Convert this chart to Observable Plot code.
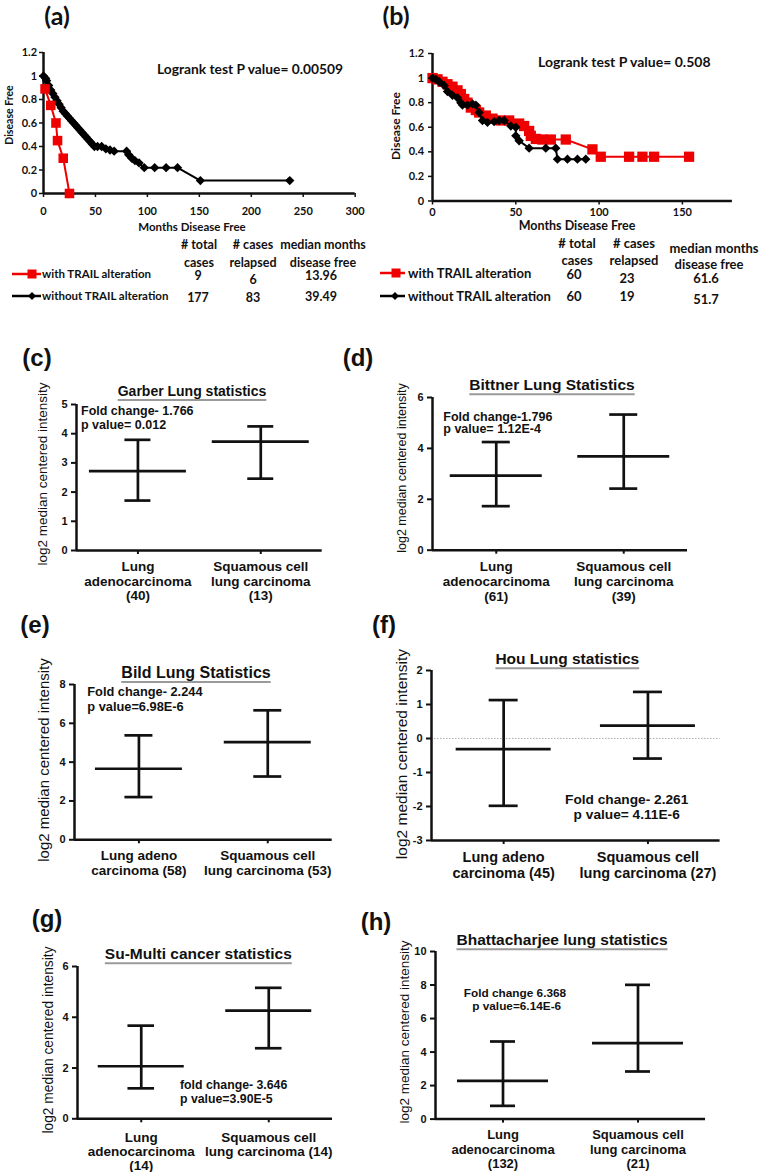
<!DOCTYPE html>
<html><head><meta charset="utf-8">
<script src="https://cdn.jsdelivr.net/npm/d3@7"></script>
<script src="https://cdn.jsdelivr.net/npm/@observablehq/plot@0.6"></script>
<style>
html,body{margin:0;padding:0;background:#fff}
#fig{position:relative;width:762px;height:1172px;overflow:hidden;background:#fff}
.t{position:absolute;white-space:pre;line-height:1;color:#111}
</style></head><body><div id="fig"></div>
<script>
// ---------------- DATA ----------------
// Panel (a) Kaplan-Meier
const aWithMonths = [1.5, 7, 12, 13.5, 19, 25];
const aWithDF = [0.89, 0.75, 0.60, 0.45, 0.30, 0];
const aWithoutMonths = [0,2,3,5,7,9,11,13,15,17,19,21,23,25,27,29,31,33,35,37,39,41,43,45,47,49,52,56,60,64,68,80,82,85,88,92,97,107,118,129,151,237];
const aWithoutDF = [1,0.98,0.96,0.92,0.88,0.85,0.82,0.79,0.76,0.73,0.70,0.68,0.66,0.64,0.62,0.60,0.58,0.56,0.54,0.52,0.50,0.48,0.46,0.44,0.42,0.40,0.40,0.40,0.38,0.37,0.36,0.36,0.33,0.30,0.28,0.26,0.22,0.22,0.22,0.22,0.11,0.11];
const aXTicks = [0,50,100,150,200,250,300];
const aYTicks = [0,0.2,0.4,0.6,0.8,1,1.2];
const aStatsWith = ["9","6","13.96"];
const aStatsWithout = ["177","83","39.49"];
// Panel (b) Kaplan-Meier
const bWithMonths = [0,3,6,9,12,15,17,19,21,23,26,28,32,36,41,46,52,55,58,59,62,66,71,80,96,101,118,126,133,154];
const bWithDF = [1,0.99,0.97,0.95,0.93,0.9,0.87,0.83,0.8,0.76,0.74,0.72,0.695,0.67,0.655,0.655,0.63,0.61,0.57,0.53,0.505,0.5,0.5,0.5,0.42,0.36,0.36,0.36,0.36,0.36];
const bWithoutMonths = [0,2,4,7,9,12,15,17,18,21,24,26,28,30,33,37,40,43,47,50,50,52,58,68,74,75,81,87,92];
const bWithoutDF = [1,0.99,0.97,0.94,0.89,0.86,0.84,0.8,0.78,0.78,0.79,0.78,0.72,0.655,0.64,0.645,0.655,0.655,0.61,0.6,0.53,0.49,0.43,0.43,0.43,0.34,0.34,0.34,0.34];
const bXTicks = [0,50,100,150];
const bYTicks = [0,0.2,0.4,0.6,0.8,1,1.2];
const bStatsWith = ["60","23","61.6"];
const bStatsWithout = ["60","19","51.7"];
const legendLabels = ["with TRAIL alteration","without TRAIL alteration"];
const statHeadTop = ["# total","# cases","median months"];
const statHeadBottom = ["cases","relapsed","disease free"];

// Expression panels (c)-(h): mean, lower and upper whisker
const cCats = ["Lung\nadenocarcinoma\n(40)","Squamous cell\nlung carcinoma\n(13)"];
const cMean = [2.72,3.73], cLow = [1.71,2.46], cHigh = [3.79,4.25], cTicks = [0,1,2,3,4,5];
const dCats = ["Lung\nadenocarcinoma\n(61)","Squamous cell\nlung carcinoma\n(39)"];
const dMean = [2.93,3.69], dLow = [1.73,2.42], dHigh = [4.25,5.33], dTicks = [0,2,4,6];
const eCats = ["Lung adeno\ncarcinoma (58)","Squamous cell\nlung carcinoma (53)"];
const eMean = [3.66,5.03], eLow = [2.2,3.26], eHigh = [5.38,6.67], eTicks = [0,2,4,6,8];
const fCats = ["Lung adeno\ncarcinoma (45)","Squamous cell\nlung carcinoma (27)"];
const fMean = [-0.31,0.38], fLow = [-1.98,-0.59], fHigh = [1.13,1.37], fTicks = [-3,-2,-1,0,1,2];
const gCats = ["Lung\nadenocarcinoma\n(14)","Squamous cell\nlung carcinoma (14)"];
const gMean = [2.07,4.26], gLow = [1.2,2.78], gHigh = [3.67,5.16], gTicks = [0,2,4,6];
const hCats = ["Lung\nadenocarcinoma\n(132)","Squamous cell\nlung carcinoma\n(21)"];
const hMean = [2.28,4.53], hLow = [0.79,2.84], hHigh = [4.63,8.01], hTicks = [0,2,4,6,8,10];
const yTitle = "log2 median centered intensity";

// ---------------- HELPERS ----------------
const CAL = "Lato, 'Open Sans', sans-serif";
const ARI = "'Liberation Sans', Arial, sans-serif";
const fig = document.getElementById("fig");

function T(str, x, y, o = {}) {
  const el = document.createElement("div");
  el.className = "t";
  el.textContent = str;
  const s = el.style;
  s.left = x + "px"; s.top = y + "px";
  s.fontFamily = o.fam || ARI;
  s.fontSize = (o.size || 12) + "px";
  s.fontWeight = o.weight || "700";
  if (o.underline) {
    s.textDecoration = "underline";
    s.textDecorationColor = "#9a9a9a";
    s.textDecorationThickness = "1.5px";
    s.textUnderlineOffset = "3px";
    s.textDecorationSkipInk = "none";
  }
  const a = o.anchor || "middle";
  const tx = a === "start" ? "0" : a === "end" ? "-100%" : "-50%";
  s.transform = `translate(${tx},-50%)` + (o.rotate ? ` rotate(${o.rotate}deg)` : "");
  fig.appendChild(el);
}

function put(svg, left, top) {
  svg.style.position = "absolute";
  svg.style.left = left + "px";
  svg.style.top = top + "px";
  svg.style.maxWidth = "none";
  svg.style.background = "transparent";
  fig.appendChild(svg);
}

function sample(x1, x2, mx, y, color, shape) {
  const w = x2 - x1, h = 14, cy = 7, cx = mx - x1;
  const mk = shape === "square"
    ? `<rect x="${cx-4.5}" y="${cy-4.5}" width="9" height="9" fill="${color}"/>`
    : `<path d="M${cx},${cy-4}L${cx+4},${cy}L${cx},${cy+4}L${cx-4},${cy}Z" fill="${color}"/>`;
  const div = document.createElement("div");
  div.innerHTML = `<svg width="${w}" height="${h}" style="position:absolute;left:${x1}px;top:${y-cy}px"><line x1="0" x2="${w}" y1="${cy}" y2="${cy}" stroke="${color}" stroke-width="2.5"/>${mk}</svg>`;
  fig.appendChild(div.firstChild);
}

function kmPanel(c) {
  const ml = 40, mr = 10, mt = 10, mb = 30;
  const toRows = (m, v) => m.map((x, i) => ({m: x, v: v[i]}));
  const series = c.series.map(s => ({...s, data: toRows(s.months, s.df)}));
  const svg = Plot.plot({
    width: c.x1 - c.x0 + ml + mr, height: c.yBot - c.yTop + mt + mb,
    marginLeft: ml, marginRight: mr, marginTop: mt, marginBottom: mb,
    x: {domain: c.xDomain, label: null},
    y: {domain: [0, 1.2], label: null},
    style: {fontFamily: CAL, color: "#111", background: "transparent", overflow: "visible"},
    marks: [
      Plot.axisY({ticks: c.yTicks, tickFormat: d => String(+d.toFixed(1)), tickSize: 4, tickPadding: c.ytp, strokeWidth: 1.5, fontSize: 11, fontWeight: "bold", label: null}),
      Plot.axisX({ticks: c.xTicks, tickFormat: d => String(d), tickSize: 4, tickPadding: c.xtp, strokeWidth: 1.5, fontSize: c.xfs, fontWeight: "bold", label: null}),
      Plot.ruleX([0], {strokeWidth: 2.5}),
      Plot.ruleY([0], {strokeWidth: 2.5}),
      ...series.flatMap(s => [
        Plot.line(s.data, {x: "m", y: "v", stroke: s.color, strokeWidth: 2}),
        Plot.dot(s.data, {x: "m", y: "v", symbol: s.symbol, r: s.r, fill: s.color, stroke: "none"})
      ])
    ]
  });
  put(svg, c.x0 - ml, c.yTop - mt);
}

function exprPanel(c) {
  const ml = 45, mr = 12, mt = 10, mb = 70;
  const W = c.x1 - c.x0, unit = W / 2;
  const rows = c.mean.map((m, i) => ({i, mean: m, lo: c.lo[i], hi: c.hi[i]}));
  const hw = c.hw / unit, cw = c.cw / unit;
  const yMin = c.ticks[0], yMax = c.ticks[c.ticks.length - 1];
  const ts = 4;
  const svg = Plot.plot({
    width: W + ml + mr, height: c.yBot - c.yTop + mt + mb,
    marginLeft: ml, marginRight: mr, marginTop: mt, marginBottom: mb,
    x: {domain: [-0.5, 1.5], label: null},
    y: {domain: [yMin, yMax], label: null},
    style: {fontFamily: ARI, color: "#111", background: "transparent", overflow: "visible"},
    marks: [
      c.zero ? Plot.ruleY([0], {stroke: "#9a9a9a", strokeWidth: 0.8, strokeDasharray: "1.5,1.5"}) : null,
      Plot.axisY({ticks: c.ticks, tickFormat: d => String(d), tickSize: 5, tickPadding: 4, strokeWidth: 2, fontSize: 11, fontWeight: "bold", label: null}),
      Plot.axisX({ticks: [0, 1], tickFormat: i => c.cats[i], tickSize: ts, tickPadding: c.catOff - ts - 0.35 * c.catSize, strokeWidth: 2, fontSize: c.catSize, fontWeight: "bold", lineHeight: c.catLH / c.catSize, label: null}),
      Plot.ruleX([-0.5], {strokeWidth: 2.5}),
      Plot.ruleY([yMin], {strokeWidth: 2.5}),
      Plot.ruleX(rows, {x: "i", y1: "lo", y2: "hi", strokeWidth: 2.7}),
      Plot.ruleY(rows, {y: "mean", x1: d => d.i - hw, x2: d => d.i + hw, strokeWidth: 2.7}),
      Plot.ruleY(rows, {y: "lo", x1: d => d.i - cw, x2: d => d.i + cw, strokeWidth: 2.7}),
      Plot.ruleY(rows, {y: "hi", x1: d => d.i - cw, x2: d => d.i + cw, strokeWidth: 2.7})
    ]
  });
  put(svg, c.x0 - ml, c.yTop - mt);
}

// ---------------- PANEL (a) ----------------
kmPanel({x0: 43.3, x1: 355, yTop: 52, yBot: 193, xDomain: [0, 300], xTicks: aXTicks, yTicks: aYTicks, ytp: 2.5, xtp: 10, xfs: 11,
  series: [
    {months: aWithoutMonths, df: aWithoutDF, color: "#000", symbol: "diamond2", r: 4.2},
    {months: aWithMonths, df: aWithDF, color: "#ee0000", symbol: "square", r: 5.4}
  ]});
T("(a)", 57, 15, {fam: CAL, size: 25});
T("Logrank test P value= 0.00509", 157, 69, {fam: CAL, size: 13.8, anchor: "start"});
T("Disease Free", 9, 115, {fam: CAL, size: 10.5, rotate: -90});
T("Months Disease Free", 192, 227, {fam: CAL, size: 11.5});
sample(12, 41, 32, 274, "#ee0000", "square");
sample(12, 41, 32, 296, "#000", "diamond");
T(legendLabels[0], 42, 274, {fam: CAL, size: 11.5, anchor: "start"});
T(legendLabels[1], 42, 296, {fam: CAL, size: 11.5, anchor: "start"});
[199, 253, 323].forEach((x, i) => {
  T(statHeadTop[i], x, 245, {fam: CAL, size: 12.5});
  T(statHeadBottom[i], x, 263, {fam: CAL, size: 12.5});
});
[[198, 276], [253, 280], [321, 276]].forEach(([x, y], i) => T(aStatsWith[i], x, y, {fam: CAL, size: 12.5}));
[[198, 298], [253, 298], [321, 297]].forEach(([x, y], i) => T(aStatsWithout[i], x, y, {fam: CAL, size: 12.5}));

// ---------------- PANEL (b) ----------------
kmPanel({x0: 431.7, x1: 731.6, yTop: 53, yBot: 200.5, xDomain: [0, 180], xTicks: bXTicks, yTicks: bYTicks, ytp: 4.5, xtp: 3, xfs: 11,
  series: [
    {months: bWithMonths, df: bWithDF, color: "#ee0000", symbol: "square", r: 5.8},
    {months: bWithoutMonths, df: bWithoutDF, color: "#000", symbol: "diamond2", r: 4.2}
  ]});
T("(b)", 396, 15, {fam: CAL, size: 25});
T("Logrank test P value= 0.508", 538, 62, {fam: CAL, size: 14, anchor: "start"});
T("Disease Free", 396, 126, {fam: CAL, size: 12, rotate: -90});
T("Months Disease Free", 577, 226, {fam: CAL, size: 12.5});
sample(380, 405, 396, 273, "#ee0000", "square");
sample(380, 405, 395, 296, "#000", "diamond");
T(legendLabels[0], 408, 273, {fam: CAL, size: 13, anchor: "start"});
T(legendLabels[1], 408, 296, {fam: CAL, size: 13, anchor: "start"});
[[577, 243, 260], [634, 243, 260], [714, 248, 264]].forEach(([x, y1, y2], i) => {
  T(statHeadTop[i], x, y1, {fam: CAL, size: 13});
  T(statHeadBottom[i], x - (i === 2 ? 5 : 0), y2, {fam: CAL, size: 13});
});
[[574, 274], [627, 278], [706, 278]].forEach(([x, y], i) => T(bStatsWith[i], x, y, {fam: CAL, size: 13}));
[[574, 296], [627, 296], [706, 299]].forEach(([x, y], i) => T(bStatsWithout[i], x, y, {fam: CAL, size: 13}));

// ---------------- PANELS (c)-(h) ----------------
exprPanel({cats: cCats, mean: cMean, lo: cLow, hi: cHigh, ticks: cTicks, x0: 76, x1: 321.7, yTop: 404, yBot: 550, hw: 48.5, cw: 13, catSize: 13.5, catLH: 14.5, catOff: 15});
T("(c)", 37, 358, {size: 24});
T("Garber Lung statistics", 192, 391, {size: 14, underline: true});
T("Fold change- 1.766", 81, 411, {size: 12.5, anchor: "start"});
T("p value= 0.012", 81, 425, {size: 12.5, anchor: "start"});
T(yTitle, 43, 474, {size: 13.5, weight: 400, rotate: -90});

exprPanel({cats: dCats, mean: dMean, lo: dLow, hi: dHigh, ticks: dTicks, x0: 431.7, x1: 686.7, yTop: 397.3, yBot: 550, hw: 46, cw: 14, catSize: 13.5, catLH: 15, catOff: 15});
T("(d)", 358, 358, {size: 24});
T("Bittner Lung Statistics", 552, 385, {size: 15.5, underline: true});
T("Fold change-1.796", 443.3, 416.7, {size: 12.5, anchor: "start"});
T("p value= 1.12E-4", 443.3, 429.3, {size: 12.5, anchor: "start"});
T(yTitle, 401.7, 467.5, {size: 12.5, weight: 400, rotate: -90});

exprPanel({cats: eCats, mean: eMean, lo: eLow, hi: eHigh, ticks: eTicks, x0: 74, x1: 331.7, yTop: 684, yBot: 839.3, hw: 43.5, cw: 14, catSize: 13.5, catLH: 15, catOff: 14});
T("(e)", 35, 625, {size: 24});
T("Bild Lung Statistics", 196, 672.7, {size: 16, underline: true});
T("Fold change- 2.244", 87.3, 692.3, {size: 12.8, anchor: "start"});
T("p value=6.98E-6", 87.3, 706.7, {size: 12.8, anchor: "start"});
T(yTitle, 43, 760, {size: 15, weight: 400, rotate: -90});

exprPanel({cats: fCats, mean: fMean, lo: fLow, hi: fHigh, ticks: fTicks, x0: 430.7, x1: 719.3, yTop: 670, yBot: 840, hw: 47.5, cw: 14.5, catSize: 14.5, catLH: 16, catOff: 15, zero: true});
T("(f)", 384, 625, {size: 24});
T("Hou Lung statistics", 567.3, 659, {size: 15.5, underline: true});
T("Fold change- 2.261", 626.7, 800, {size: 13.7});
T("p value= 4.11E-6", 626.7, 815, {size: 13.7});
T(yTitle, 401.7, 754, {size: 15.5, weight: 400, rotate: -90});

exprPanel({cats: gCats, mean: gMean, lo: gLow, hi: gHigh, ticks: gTicks, x0: 77.3, x1: 332.3, yTop: 966, yBot: 1118.3, hw: 43, cw: 13.3, catSize: 13.5, catLH: 14, catOff: 17.5});
T("(g)", 47, 919, {size: 24});
T("Su-Multi cancer statistics", 198.3, 954, {size: 15.5, underline: true});
T("fold change- 3.646", 180, 1085, {size: 12.3, anchor: "start"});
T("p value=3.90E-5", 180, 1099.3, {size: 12.3, anchor: "start"});
T(yTitle, 49.3, 1039.5, {size: 13.8, weight: 400, rotate: -90});

exprPanel({cats: hCats, mean: hMean, lo: hLow, hi: hHigh, ticks: hTicks, x0: 435, x1: 705, yTop: 950.7, yBot: 1118.3, hw: 45.5, cw: 12.5, catSize: 13, catLH: 14.5, catOff: 14.4});
T("(h)", 376, 922, {size: 24});
T("Bhattacharjee lung statistics", 562, 940, {size: 15.5, underline: true});
T("Fold change 6.368", 515, 994, {size: 11.8});
T("p value=6.14E-6", 516.7, 1006.7, {size: 11.8});
T(yTitle, 405, 1031.5, {size: 13.5, weight: 400, rotate: -90});
</script></body></html>
